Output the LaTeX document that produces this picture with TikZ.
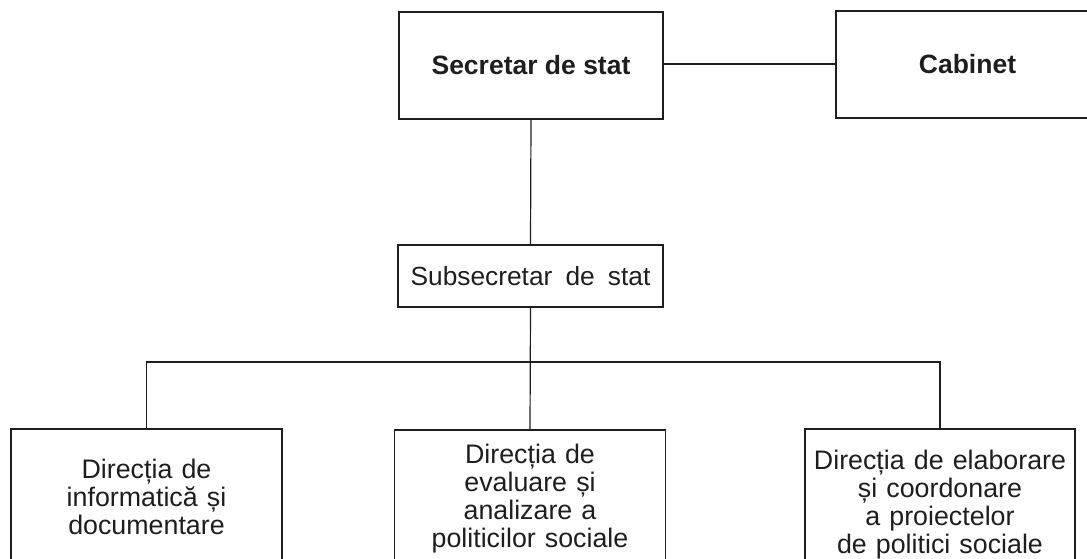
\documentclass[tikz,border=0pt]{standalone}
\usepackage{fontspec}
\setmainfont{Liberation Sans}
\definecolor{ink}{HTML}{1E1E1E}
\newcommand\wsfont{\fontsize{26.8}{28}\selectfont\spaceskip=0.34em\relax}
\newcommand\subfont{\fontsize{26.3}{28}\selectfont\spaceskip=0.5em\relax}
\newcommand\bdfont{\fontsize{26.5}{28}\selectfont\bfseries}
\begin{document}
\begin{tikzpicture}[x=1pt,y=-1pt,
  box/.style={draw=ink,line width=1.2pt,rectangle,inner sep=0pt,align=center,text=ink,font=\wsfont},
  boldbox/.style={box,font=\bdfont},
  conn/.style={draw=ink,line width=1.2pt}]
\useasboundingbox (0,0) rectangle (1087,559);
\clip (0,0) rectangle (1087,559);
\node[boldbox,minimum width=264pt,minimum height=107pt] (sec) at (531,65.5) {Secretar de stat};
\node[boldbox,minimum width=263pt,minimum height=107pt] (cab) at (967.5,64.5) {Cabinet};
\node[box,font=\subfont,minimum width=265pt,minimum height=62pt] (sub) at (530.5,276) {Subsecretar de stat};
\node[box,minimum width=271pt,minimum height=136pt] (left) at (146.5,497) {Direcția de\\informatică și\\documentare};
\node[box,minimum width=271pt,minimum height=138pt] (mid) at (530,499) {Direcția de\\evaluare și\\analizare a\\politicilor sociale};
\node[box,minimum width=270pt,minimum height=152pt] (right) at (940,505) {Direcția de elaborare\\și coordonare\\a proiectelor\\de politici sociale};
\coordinate (bar) at (530,362);
\draw[conn] (sec.east |- 0,64) -- (cab.west |- 0,64);
\draw[conn] (sec.south) -- (sub.north);
\draw[conn] (sub.south) -- (mid.north);
\draw[conn] (left.north) |- (bar) -| (right.north);
\end{tikzpicture}
\end{document}
